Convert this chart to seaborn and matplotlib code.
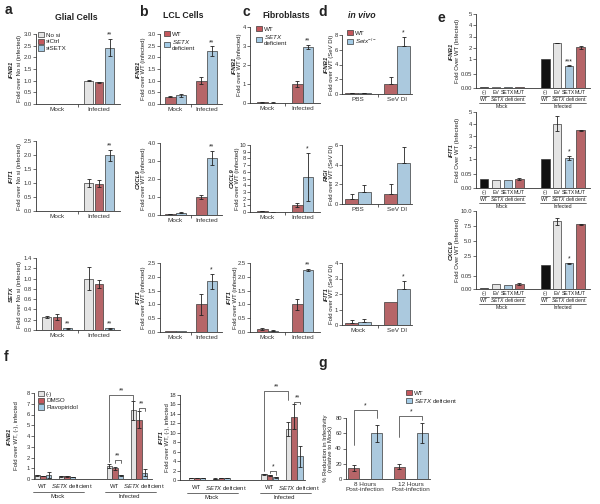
import numpy as np
import pandas as pd
import seaborn as sns
import matplotlib.pyplot as plt
import matplotlib.transforms as mtransforms
from matplotlib.patches import Patch
from matplotlib.lines import Line2D

W, H, DPI = 600, 504, 100

GRAY = '#e4e4e4'
RED = '#c4575c'
BLUE = '#a3cbe6'
BLACK = '#111111'
EDGE = '#3a3a3a'

FS_TICK = 4.2
FS_LAB = 4.3
FS_COND = 4.6
FS_LEG = 4.5

# ---------------- data ----------------
conds = ['Mock', 'Infected']

# a - glial cells
a_groups = ['No si', 'siCtrl', 'siSETX']
a_ifnb1 = [[0.02, 1.00], [0.02, 0.93], [0.02, 2.42]]
a_ifnb1_err = [[0, 0.03], [0, 0.02], [0, 0.38]]
a_ifnb1_sig = [['', ''], ['', ''], ['', '**']]
a_ifit1 = [[0.01, 1.00], [0.01, 0.97], [0.01, 1.99]]
a_ifit1_err = [[0, 0.15], [0, 0.12], [0, 0.20]]
a_ifit1_sig = [['', ''], ['', ''], ['', '**']]
a_setx = [[0.25, 1.00], [0.26, 0.89], [0.03, 0.03]]
a_setx_err = [[0.02, 0.22], [0.06, 0.08], [0.005, 0.005]]
a_setx_sig = [['', ''], ['', ''], ['**', '**']]

# b - LCL cells / c - fibroblasts
wt_setx = ['WT', 'SETX deficient']
b_ifnb1 = [[0.32, 1.00], [0.37, 2.27]]
b_ifnb1_err = [[0.03, 0.15], [0.07, 0.20]]
b_cxcl9 = [[0.05, 1.00], [0.13, 3.18]]
b_cxcl9_err = [[0.01, 0.10], [0.03, 0.38]]
b_ifit1 = [[0.02, 1.00], [0.02, 1.83]]
b_ifit1_err = [[0, 0.38], [0, 0.28]]
b_sig = [['', ''], ['', '**']]
b_sig3 = [['', ''], ['', '*']]

c_ifnb1 = [[0.03, 1.00], [0.02, 2.95]]
c_ifnb1_err = [[0.01, 0.15], [0.01, 0.12]]
c_cxcl9 = [[0.12, 1.00], [0.05, 5.20]]
c_cxcl9_err = [[0.03, 0.30], [0.01, 3.60]]
c_ifit1 = [[0.10, 1.00], [0.05, 2.25]]
c_ifit1_err = [[0.03, 0.20], [0.01, 0.04]]
c_sig2 = [['', ''], ['', '*']]

# d - in vivo
d_groups = ['WT', 'Setx-/-']
d_conds = ['PBS', 'SeV DI']
d_conds3 = ['Mock', 'SeV DI']
d_ifnb1 = [[0.10, 1.30], [0.10, 6.50]]
d_ifnb1_err = [[0.10, 0.95], [0.10, 1.20]]
d_rigi = [[0.55, 1.00], [1.20, 4.15]]
d_rigi_err = [[0.45, 1.00], [0.70, 1.60]]
d_ifit1 = [[0.12, 1.50], [0.18, 2.35]]
d_ifit1_err = [[0.20, 0], [0.22, 0.50]]
d_sig = [['', ''], ['', '*']]
d_nosig = [['', ''], ['', '']]

# e - complementation
e_kinds = ['(-)', 'EV', 'SETX', 'MUT']
e_names = ['(-)', 'EV', 'SETX', 'MUT', '(-)', 'EV', 'SETX', 'MUT']
e_pos = [0, 1, 2, 3, 5.2, 6.2, 7.2, 8.2]
e_ifnb1 = [0.004, 0.003, 0.004, 0.004, 1.0, 2.40, 0.58, 2.05]
e_ifnb1_err = [0, 0, 0, 0, 0, 0.02, 0.02, 0.12]
e_ifnb1_sig = ['', '', '', '', '', '', '***', '']
e_ifit1 = [0.033, 0.030, 0.030, 0.032, 1.0, 4.00, 1.10, 3.45]
e_ifit1_err = [0, 0, 0, 0.002, 0, 0.65, 0.15, 0.03]
e_ifit1_sig = ['', '', '', '', '', '', '*', '']
e_cxcl9 = [0.003, 0.018, 0.017, 0.020, 1.0, 8.30, 1.30, 7.80]
e_cxcl9_err = [0, 0, 0, 0.003, 0, 0.60, 0.05, 0.08]
e_cxcl9_sig = ['', '', '', '', '', '', '*', '']

# f - flavopiridol
f_pos = [0, 1, 3, 4]
f_groups = ['(-)', 'DMSO', 'Flavopiridol']
f_ifnb1 = [[0.35, 0.25, 1.20, 6.40], [0.28, 0.25, 1.00, 5.50], [0.38, 0.20, 0.35, 0.60]]
f_ifnb1_err = [[0.05, 0.03, 0.20, 0.90], [0.03, 0.03, 0.15, 0.80], [0.25, 0.02, 0.03, 0.30]]
f_ifit1 = [[0.40, 0.30, 1.25, 10.8], [0.35, 0.40, 1.00, 13.4], [0.40, 0.40, 0.55, 5.0]]
f_ifit1_err = [[0.03, 0.03, 0.10, 1.5], [0.03, 0.03, 0.10, 2.6], [0.03, 0.03, 0.10, 2.3]]

# g - infectivity
g_cats = ['8 Hours\nPost-infection', '12 Hours\nPost-infection']
g_vals = [[15, 16], [60, 60]]
g_err = [[4, 3.5], [11, 13]]

# ---------------- style ----------------
sns.set_style('ticks')
plt.rcParams['font.family'] = ['Liberation Sans', 'DejaVu Sans']
plt.rcParams['mathtext.fontset'] = 'custom'
plt.rcParams['mathtext.rm'] = 'Liberation Sans'
plt.rcParams['mathtext.it'] = 'Liberation Sans:italic'
plt.rcParams['mathtext.bf'] = 'Liberation Sans:bold'
plt.rcParams['text.color'] = '#222222'
plt.rcParams['axes.edgecolor'] = '#333333'

fig = plt.figure(figsize=(W / DPI, H / DPI), dpi=DPI)
SETX_LBL = r'$\it{SETX}$ deficient'


def add_ax(l, t, r, b):
    return fig.add_axes([l / W, 1 - b / H, (r - l) / W, (b - t) / H])


def grouped(ax, cats, groups, vals, errs, colors, width=0.8, gap=0.0,
            one_sided=False, sig=None, native=False):
    rows = [(c, g, v) for g, gv in zip(groups, vals) for c, v in zip(cats, gv)]
    df = pd.DataFrame(rows, columns=['cat', 'grp', 'val'])
    kw = dict(native_scale=True) if native else dict(order=cats)
    sns.barplot(data=df, x='cat', y='val', hue='grp', hue_order=groups,
                palette=colors, errorbar=None, width=width, gap=gap,
                edgecolor=EDGE, linewidth=0.5, legend=False, ax=ax, **kw)
    conts = list(ax.containers)
    centers = []
    for i, cont in enumerate(conts):
        xs = [b.get_x() + b.get_width() / 2 for b in cont]
        centers.append(xs)
        for j, b in enumerate(cont):
            h = b.get_height()
            e = errs[i][j]
            if e > 0:
                lo = 0 if one_sided else e
                ax.errorbar(xs[j], h, yerr=[[lo], [e]], fmt='none', ecolor='#222222',
                            elinewidth=0.6, capsize=1.6, capthick=0.6)
            if sig and sig[i][j]:
                ax.annotate(sig[i][j], (xs[j], h + e), xytext=(0, 0.3),
                            textcoords='offset points', ha='center', va='bottom',
                            fontsize=4.8, annotation_clip=False)
    return centers


def style(ax, ymax, step, fmt):
    ax.set_ylim(0, ymax)
    ticks = np.arange(0, ymax + step / 2, step)
    ax.set_yticks(ticks)
    ax.set_yticklabels([fmt.format(t) for t in ticks])
    sns.despine(ax=ax)
    ax.tick_params(labelsize=FS_TICK, length=2, width=0.5, pad=1, colors='#333333')
    for s in ax.spines.values():
        s.set_linewidth(0.6)
    ax.set_xlabel('')
    ax.set_ylabel('')


def ylab(ax, gene, text, d_gene, d_text):
    w = ax.get_position().width * W
    if gene:
        ax.text(-d_gene / w, 0.5, gene, transform=ax.transAxes, rotation=90,
                ha='center', va='center', fontsize=FS_LAB, fontweight='bold', fontstyle='italic')
    ax.text(-d_text / w, 0.5, text, transform=ax.transAxes, rotation=90,
            ha='center', va='center', fontsize=FS_LAB, linespacing=1.0)


def cond_axis(ax, labels, xlim):
    ax.set_xlim(*xlim)
    ax.set_xticks(range(len(labels)))
    ax.set_xticklabels(labels, fontsize=FS_COND)
    ax.tick_params(axis='x', length=0, pad=2)
    ax.set_xticks([0.5], minor=True)
    ax.tick_params(axis='x', which='minor', length=2, width=0.5)


def legend(ax, labels, colors, x, y):
    hs = [Patch(facecolor=c, edgecolor=EDGE, linewidth=0.5) for c in colors]
    ax.legend(hs, labels, loc='upper left', bbox_to_anchor=(x / W, 1 - y / H),
              bbox_transform=fig.transFigure, frameon=False, fontsize=FS_LEG,
              handlelength=1.0, handleheight=0.9, handletextpad=0.3,
              labelspacing=0.15, borderpad=0, borderaxespad=0)


def below_tr(ax, dy):
    return (mtransforms.blended_transform_factory(ax.transData, ax.transAxes)
            + mtransforms.ScaledTranslation(0, -dy / DPI, fig.dpi_scale_trans))


def below(ax, x, dy, s, size=FS_COND):
    ax.text(x, 0, s, transform=below_tr(ax, dy), ha='center', va='center',
            fontsize=size, clip_on=False)


def under(ax, x1, x2, dy):
    ax.add_line(Line2D([x1, x2], [0, 0], transform=below_tr(ax, dy),
                       color='#333333', lw=0.5, clip_on=False))


def bracket(ax, x1, x2, y, y1, y2, s):
    ax.plot([x1, x1, x2, x2], [y1, y, y, y2], color='#333333', lw=0.5, clip_on=False)
    ax.annotate(s, ((x1 + x2) / 2, y), xytext=(0, 0.3), textcoords='offset points',
                ha='center', va='bottom', fontsize=4.8, annotation_clip=False)


def simple(box, cats, groups, colors, vals, errs, sig, ymax, step, fmt, gene, text,
           dg, dt, width, gap=0.0, one_sided=False, xlim=(-0.5, 1.5)):
    ax = add_ax(*box)
    grouped(ax, cats, groups, vals, errs, colors, width=width, gap=gap,
            one_sided=one_sided, sig=sig)
    style(ax, ymax, step, fmt)
    cond_axis(ax, cats, xlim)
    ylab(ax, gene, text, dg, dt)
    return ax


# ---------------- a ----------------
ca = [GRAY, RED, BLUE]
txt_a = 'Fold over No si (infected)'
ax = simple((36, 34, 120, 104), conds, a_groups, ca, a_ifnb1, a_ifnb1_err, a_ifnb1_sig,
            3.0, 0.5, '{:.1f}', 'IFNB1', txt_a, 25, 17, 0.75, 0.15)
legend(ax, a_groups, ca, 38, 32)
simple((36, 141, 120, 211), conds, a_groups, ca, a_ifit1, a_ifit1_err, a_ifit1_sig,
       2.5, 0.5, '{:.1f}', 'IFIT1', txt_a, 25, 17, 0.75, 0.15)
simple((36, 258, 120, 330), conds, a_groups, ca, a_setx, a_setx_err, a_setx_sig,
       1.4, 0.2, '{:.1f}', 'SETX', txt_a, 25, 17, 0.75, 0.15)

# ---------------- b ----------------
cb = [RED, BLUE]
txt_b = 'Fold over WT (infected)'
ax = simple((160, 34, 222, 104), conds, wt_setx, cb, b_ifnb1, b_ifnb1_err, b_sig,
            3.0, 0.5, '{:.1f}', 'IFNB1', txt_b, 22, 16, 0.65)
legend(ax, ['WT', '$\\it{SETX}$\ndeficient'], cb, 164, 31)
simple((160, 143, 222, 215), conds, wt_setx, cb, b_cxcl9, b_cxcl9_err, b_sig,
       4.0, 1.0, '{:.1f}', 'CXCL9', txt_b, 22, 16, 0.65)
simple((160, 263, 222, 332), conds, wt_setx, cb, b_ifit1, b_ifit1_err, b_sig3,
       2.5, 0.5, '{:.1f}', 'IFIT1', txt_b, 22, 16, 0.65)

# ---------------- c ----------------
ax = simple((250, 27, 320, 103), conds, wt_setx, cb, c_ifnb1, c_ifnb1_err, b_sig,
            4, 1, '{:.0f}', 'IFNB1', txt_b, 16, 10, 0.58)
legend(ax, ['WT', '$\\it{SETX}$\ndeficient'], cb, 256, 26)
simple((250, 145, 320, 212), conds, wt_setx, cb, c_cxcl9, c_cxcl9_err, c_sig2,
       10, 1, '{:.0f}', 'CXCL9', txt_b, 18, 12, 0.58)
simple((250, 263, 320, 332), conds, wt_setx, cb, c_ifit1, c_ifit1_err, b_sig,
       2.5, 0.5, '{:.1f}', 'IFIT1', txt_b, 21, 15, 0.58)

# ---------------- d ----------------
txt_d = 'Fold over WT (SeV DI)'
ax = simple((342, 35, 412, 94), d_conds, d_groups, cb, d_ifnb1, d_ifnb1_err, d_sig,
            8, 2, '{:.0f}', 'IFNB1', txt_d, 16, 10, 0.66, one_sided=True, xlim=(-0.41, 1.38))
legend(ax, ['WT', '$\\it{Setx}^{-/-}$'], cb, 347, 30)
simple((342, 145, 412, 204), d_conds, d_groups, cb, d_rigi, d_rigi_err, d_nosig,
       6, 2, '{:.0f}', 'RIGI', txt_d, 16, 10, 0.66, one_sided=True, xlim=(-0.41, 1.38))
simple((342, 263, 412, 325), d_conds3, d_groups, cb, d_ifit1, d_ifit1_err, d_sig,
       4, 1, '{:.0f}', 'IFIT1', txt_d, 16, 10, 0.66, one_sided=True, xlim=(-0.41, 1.38))

# ---------------- e ----------------
ce = [BLACK, GRAY, BLUE, RED]
FS_E = 3.7


def e_panel(box, vals, errs, sig, knots, frac, ticks, labels, gene):
    ax = add_ax(*box)
    df = pd.DataFrame({'pos': e_pos, 'val': vals, 'kind': e_names})
    sns.barplot(data=df, x='pos', y='val', hue='kind', hue_order=e_kinds, palette=ce,
                dodge=False, native_scale=True, width=0.72, errorbar=None,
                edgecolor=EDGE, linewidth=0.5, legend=False, ax=ax)
    kn = np.array(knots, float)
    fr = np.array(frac, float) / frac[-1]
    ax.set_yscale('function', functions=(lambda v: np.interp(v, kn, fr),
                                         lambda p: np.interp(p, fr, kn)))
    for x, v, e, s in zip(e_pos, vals, errs, sig):
        if e > 0:
            ax.errorbar(x, v, yerr=e, fmt='none', ecolor='#222222', elinewidth=0.6,
                        capsize=1.6, capthick=0.6)
        if s:
            ax.annotate(s, (x, v + e), xytext=(0, 0.3), textcoords='offset points',
                        ha='center', va='bottom', fontsize=4.8)
    style(ax, knots[-1], 1, '{}')
    ax.set_yticks(ticks)
    ax.set_yticklabels(labels)
    ax.yaxis.set_minor_locator(plt.NullLocator())
    ax.set_xlim(-0.7, 9.0)
    ax.set_xticks([])
    for i, cond in zip((0, 4), conds):
        for k in range(4):
            below(ax, e_pos[i + k], 4.3, e_names[i + k], FS_E)
        under(ax, e_pos[i] - 0.38, e_pos[i] + 0.38, 7.6)
        under(ax, e_pos[i + 1] - 0.45, e_pos[i + 3] + 0.45, 7.6)
        below(ax, e_pos[i], 11.2, 'WT', FS_E)
        below(ax, e_pos[i + 2], 11.2, SETX_LBL, FS_E)
        under(ax, e_pos[i] - 0.45, e_pos[i + 3] + 0.45, 14.6)
        below(ax, np.mean(e_pos[i:i + 4]), 18.2, cond, FS_E)
    ylab(ax, gene, 'Fold Over WT (Infected)', 25, 19)


e_panel((476, 14, 590, 88), e_ifnb1, e_ifnb1_err, e_ifnb1_sig, [0, 0.05, 1, 5],
        [0, 14, 29, 74], [0, 0.05, 1, 2, 3, 4, 5], ['0.00', '0.05', '1', '2', '3', '4', '5'], 'IFNB1')
e_panel((476, 112, 590, 188), e_ifit1, e_ifit1_err, e_ifit1_sig, [0, 0.05, 1, 5],
        [0, 14, 29, 76], [0, 0.05, 1, 2, 3, 4, 5], ['0.00', '0.05', '1', '2', '3', '4', '5'], 'IFIT1')
e_panel((476, 211, 590, 289), e_cxcl9, e_cxcl9_err, e_cxcl9_sig, [0, 0.05, 1, 10],
        [0, 13, 24, 78], [0, 0.05, 2.5, 5, 7.5, 10], ['0.00', '0.05', '2.5', '5.0', '7.5', '10.0'], 'CXCL9')


# ---------------- f ----------------
def f_panel(box, vals, errs, ymax, step, gene, dg, dt, xlim):
    ax = add_ax(*box)
    cen = grouped(ax, f_pos, f_groups, vals, errs, ca, width=0.72, gap=0.1, native=True)
    style(ax, ymax, step, '{:.0f}')
    ax.set_xlim(*xlim)
    ax.set_xticks([])
    for i, cond in zip((0, 2), conds):
        below(ax, f_pos[i], 7.5, 'WT', FS_LAB)
        below(ax, f_pos[i + 1] + 0.2, 7.5, SETX_LBL, FS_LAB)
        under(ax, f_pos[i] - 0.4, f_pos[i + 1] + 0.7, 12.5)
        below(ax, (f_pos[i] + f_pos[i + 1]) / 2 + 0.1, 17.5, cond, FS_LAB)
    ylab(ax, gene, 'Fold over WT, (-), infected', dg, dt)
    return ax, cen


ax, cf = f_panel((34, 393, 152, 479), f_ifnb1, f_ifnb1_err, 8, 1, 'IFNB1', 25, 17, (-0.375, 4.54))
legend(ax, f_groups, ca, 38, 391)
bracket(ax, cf[0][2], cf[0][3], 7.8, 1.6, 7.3, '**')
bracket(ax, cf[1][2], cf[2][2], 1.8, 1.45, 1.45, '**')
bracket(ax, cf[1][3], cf[2][3], 6.6, 6.35, 6.35, '**')

ax, cf = f_panel((180, 395, 305, 480), f_ifit1, f_ifit1_err, 18, 2, 'IFIT1', 19, 13, (-0.7, 4.45))
bracket(ax, cf[0][2], cf[0][3], 18.8, 2.0, 17.0, '**')
bracket(ax, cf[1][2], cf[2][2], 1.9, 1.4, 1.0, '*')
bracket(ax, cf[1][3], cf[2][3], 16.6, 16.2, 16.2, '**')

# ---------------- g ----------------
ax = add_ax(346, 418, 430, 479)
cg = grouped(ax, g_cats, wt_setx, g_vals, g_err, cb, width=1.0, gap=0.5)
style(ax, 80, 20, '{:.0f}')
ax.set_xlim(-0.42, 1.42)
ax.set_xticks([0, 1])
ax.set_xticklabels(g_cats, fontsize=FS_COND, linespacing=0.95)
ax.tick_params(axis='x', length=0, pad=2)
ylab(ax, '', '% Reduction in Infectivity\n(relative to Mock)', 0, 18)
legend(ax, ['WT', SETX_LBL], cb, 406, 390)
bracket(ax, cg[0][0], cg[1][0], 91, 45, 80, '*')
bracket(ax, cg[0][1], cg[1][1], 83, 55, 78, '*')

# ---------------- titles & letters ----------------
for s, x, y in [('Glial Cells', 76, 17), ('LCL Cells', 183, 15), ('Fibroblasts', 286, 15)]:
    fig.text(x / W, 1 - y / H, s, ha='center', va='center', fontsize=6.3, fontweight='bold')
fig.text(362 / W, 1 - 15 / H, 'in vivo', ha='center', va='center', fontsize=6.3,
         fontweight='bold', fontstyle='italic')
for s, x, y in [('a', 8, 10), ('b', 143, 12), ('c', 246, 12), ('d', 323, 12),
                ('e', 441, 18), ('f', 6, 357), ('g', 323, 363)]:
    fig.text(x / W, 1 - y / H, s, ha='center', va='center', fontsize=10, fontweight='bold')

fig.savefig('out.png', dpi=DPI, facecolor='white')
